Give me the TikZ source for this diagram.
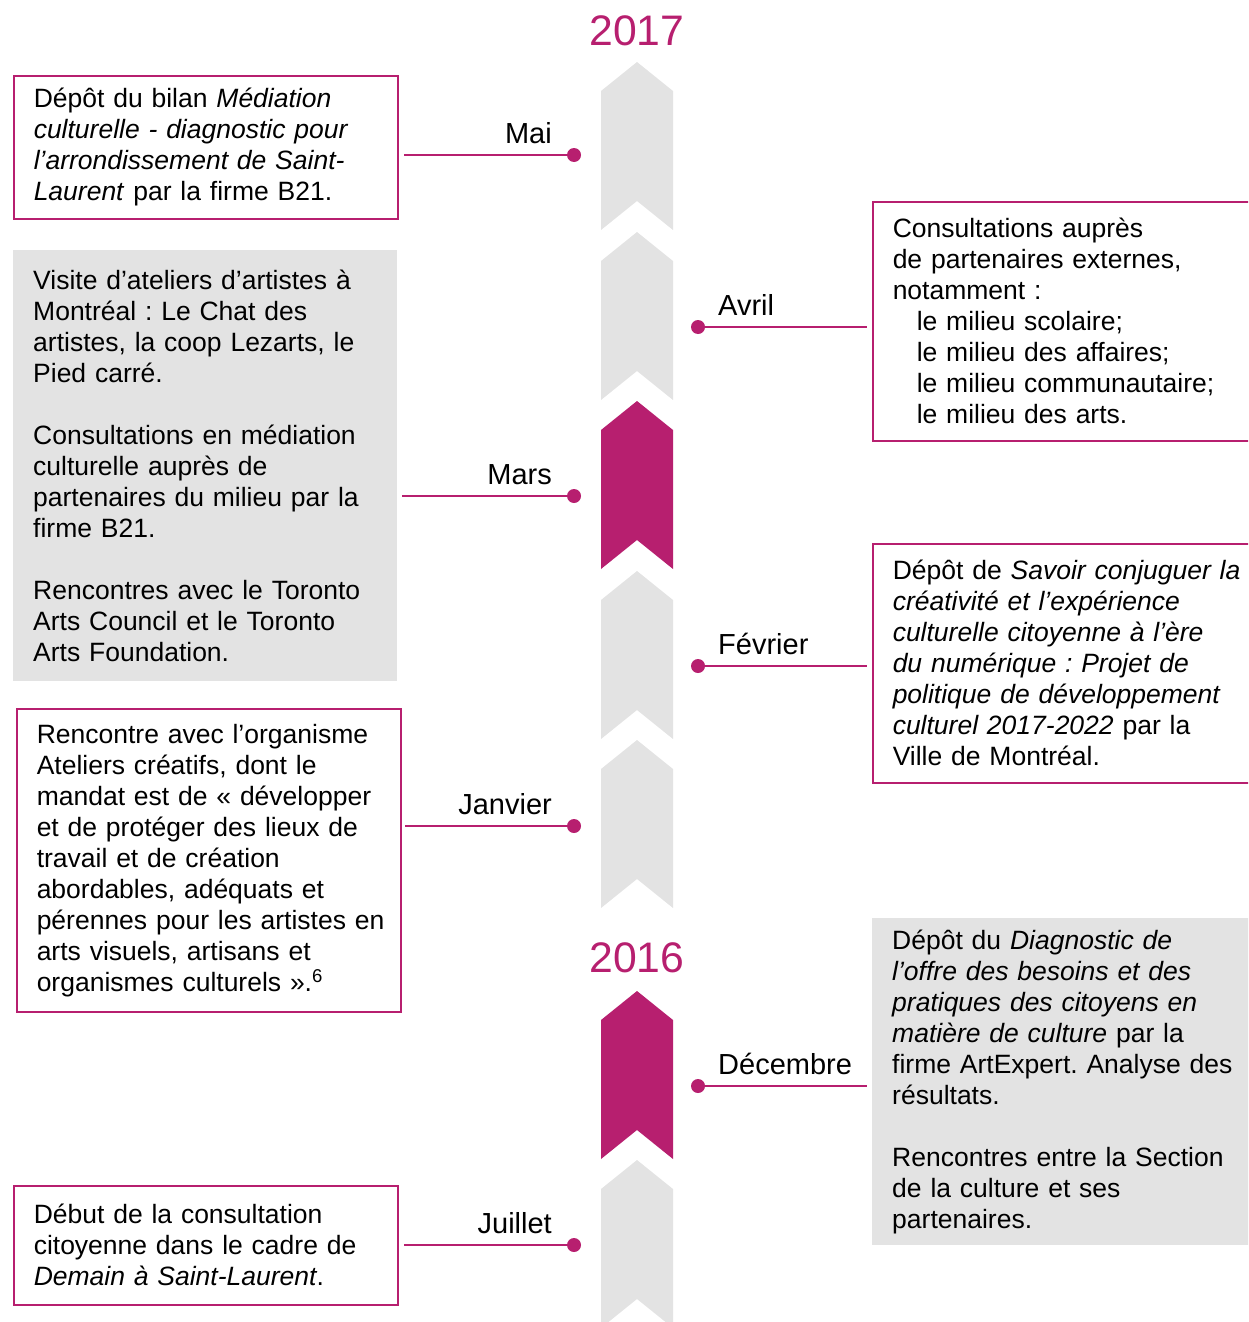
\documentclass[tikz,border=0pt]{standalone}
\usepackage{fontspec}
\setmainfont{Liberation Sans}
\usetikzlibrary{positioning}
\definecolor{plum}{HTML}{B71F6F}
\definecolor{lightgrey}{HTML}{E3E3E3}
\frenchspacing
\begin{document}
\begin{tikzpicture}[
x=1pt, y=-1pt,
every node/.style={font=\fontsize{26.5}{31}\selectfont},
entry/.style={rectangle, draw=plum, line width=1.5pt, anchor=north west, inner xsep=20pt, inner ysep=0pt, text width=344pt, align=left},
greyentry/.style={rectangle, fill=lightgrey, anchor=north west, inner xsep=20pt, inner ysep=0pt, text width=344pt, align=left},
dot/.style={circle, fill=plum, inner sep=0pt, minimum size=14pt},
month/.style={font=\fontsize{29}{34}\selectfont, inner sep=0pt},
year/.style={font=\fontsize{42.7}{50}\selectfont, text=plum, inner sep=0pt},
link/.style={draw=plum, line width=1.2pt},
]
\path[use as bounding box, clip] (0,0) rectangle (1248,1322);

\fill[lightgrey] (637,62) -- ++(36,29) -- ++(0,139) -- ++(-36,-29) -- ++(-36,29) -- ++(0,-139) -- cycle;
\fill[lightgrey] (637,232) -- ++(36,29) -- ++(0,139) -- ++(-36,-29) -- ++(-36,29) -- ++(0,-139) -- cycle;
\fill[plum] (637,401) -- ++(36,29) -- ++(0,139) -- ++(-36,-29) -- ++(-36,29) -- ++(0,-139) -- cycle;
\fill[lightgrey] (637,571) -- ++(36,29) -- ++(0,139) -- ++(-36,-29) -- ++(-36,29) -- ++(0,-139) -- cycle;
\fill[lightgrey] (637,740) -- ++(36,29) -- ++(0,139) -- ++(-36,-29) -- ++(-36,29) -- ++(0,-139) -- cycle;
\fill[plum] (637,991) -- ++(36,29) -- ++(0,139) -- ++(-36,-29) -- ++(-36,29) -- ++(0,-139) -- cycle;
\fill[lightgrey] (637,1160) -- ++(36,29) -- ++(0,139) -- ++(-36,-29) -- ++(-36,29) -- ++(0,-139) -- cycle;

\node[year] (y2017) at (637,31) {2017};
\node[year] (y2016) at (637,958) {2016};

\node[entry, minimum height=143pt] (maibox) at (13,75) {Dépôt du bilan \textit{Médiation}\\
\textit{culturelle - diagnostic pour}\\
\textit{l’arrondissement de Saint-}\\
\textit{Laurent} par la firme B21.};
\node[greyentry, minimum height=431pt] (marsbox) at (13,250) {Visite d’ateliers d’artistes à\\
Montréal : Le Chat des\\
artistes, la coop Lezarts, le\\
Pied carré.\\[31pt]
Consultations en médiation\\
culturelle auprès de\\
partenaires du milieu par la\\
firme B21.\\[31pt]
Rencontres avec le Toronto\\
Arts Council et le Toronto\\
Arts Foundation.};
\node[entry, minimum height=303pt] (janvierbox) at (16,708) {Rencontre avec l’organisme\\
Ateliers créatifs, dont le\\
mandat est de « développer\\
et de protéger des lieux de\\
travail et de création\\
abordables, adéquats et\\
\mbox{pérennes pour les artistes en}\\
arts visuels, artisans et\\
organismes culturels ».\textsuperscript{6}};
\node[entry, minimum height=119pt] (juilletbox) at (13,1185) {Début de la consultation\\
citoyenne dans le cadre de\\
\textit{Demain à Saint-Laurent}.};

\node[entry, text width=380pt, minimum height=239pt] (avrilbox) at (872,201) {Consultations auprès\\
de partenaires externes,\\
notamment :\\
\hspace*{24pt}le milieu scolaire;\\
\hspace*{24pt}le milieu des affaires;\\
\hspace*{24pt}le milieu communautaire;\\
\hspace*{24pt}le milieu des arts.};
\node[entry, text width=380pt, minimum height=239pt] (fevrierbox) at (872,543) {Dépôt de \textit{Savoir conjuguer la}\\
\textit{créativité et l’expérience}\\
\textit{culturelle citoyenne à l’ère}\\
\textit{du numérique : Projet de}\\
\textit{politique de développement}\\
\textit{culturel 2017-2022} par la\\
Ville de Montréal.};
\node[greyentry, text width=380pt, minimum height=327pt] (decembrebox) at (872,918) {Dépôt du \textit{Diagnostic de}\\
\textit{l’offre des besoins et des}\\
\textit{pratiques des citoyens en}\\
\textit{matière de culture} par la\\
firme ArtExpert. Analyse des\\
résultats.\\[31pt]
Rencontres entre la Section\\
de la culture et ses\\
partenaires.};

\node[dot] (maidot) at (574,155) {};
\node[dot] (marsdot) at (574,496) {};
\node[dot] (janvierdot) at (574,826) {};
\node[dot] (juilletdot) at (574,1245) {};
\node[dot] (avrildot) at (698,327) {};
\node[dot] (fevrierdot) at (698,666) {};
\node[dot] (decembredot) at (698,1086) {};

\node[month, anchor=base east] (mai) at ([xshift=-22pt, yshift=12pt]maidot.center) {Mai};
\node[month, anchor=base east] (mars) at ([xshift=-22pt, yshift=12pt]marsdot.center) {Mars};
\node[month, anchor=base east] (janvier) at ([xshift=-22pt, yshift=12pt]janvierdot.center) {Janvier};
\node[month, anchor=base east] (juillet) at ([xshift=-22pt, yshift=12pt]juilletdot.center) {Juillet};
\node[month, anchor=base west] (avril) at ([xshift=20pt, yshift=12pt]avrildot.center) {Avril};
\node[month, anchor=base west] (fevrier) at ([xshift=20pt, yshift=12pt]fevrierdot.center) {Février};
\node[month, anchor=base west] (decembre) at ([xshift=20pt, yshift=12pt]decembredot.center) {Décembre};

\draw[link, shorten >=5pt] (maidot) -- (maidot -| maibox.east);
\draw[link, shorten >=5pt] (marsdot) -- (marsdot -| marsbox.east);
\draw[link, shorten >=3pt] (janvierdot) -- (janvierdot -| janvierbox.east);
\draw[link, shorten >=5pt] (juilletdot) -- (juilletdot -| juilletbox.east);
\draw[link, shorten >=5pt] (avrildot) -- (avrildot -| avrilbox.west);
\draw[link, shorten >=5pt] (fevrierdot) -- (fevrierdot -| fevrierbox.west);
\draw[link, shorten >=5pt] (decembredot) -- (decembredot -| decembrebox.west);
\end{tikzpicture}
\end{document}
